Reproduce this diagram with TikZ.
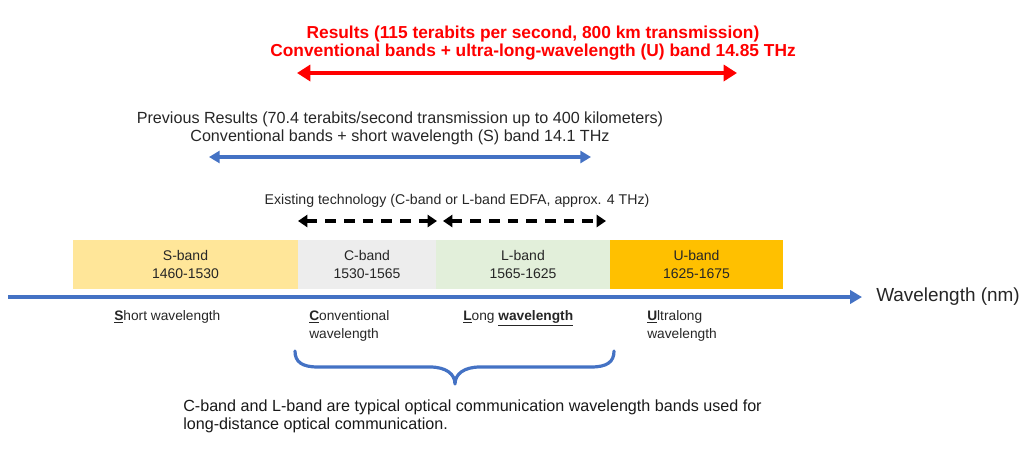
\documentclass[tikz,border=0pt]{standalone}
\usepackage{fontspec}
\setmainfont{Liberation Sans}
\usetikzlibrary{arrows.meta}
\definecolor{axisblue}{HTML}{4472C4}
\definecolor{sfill}{HTML}{FFE699}
\definecolor{cfill}{HTML}{EDEDED}
\definecolor{lfill}{HTML}{E2EFDA}
\definecolor{ufill}{HTML}{FFC000}
\definecolor{resred}{HTML}{FF0000}
\tikzset{
  band/.style={draw=none, minimum height=49*0.75pt, inner sep=0pt, align=center, font=\fontsize{10.5pt}{13pt}\selectfont, text=black!85},
  lbl/.style={inner sep=0pt, align=left, anchor=north west, font=\fontsize{10.3pt}{13.5pt}\selectfont, text=black!85},
  redarrow/.style={draw=resred, line width=3.2pt, {Triangle[length=10pt,width=12pt]}-{Triangle[length=10pt,width=12pt]}},
  bluearrow/.style={draw=axisblue, line width=2.4pt, {Triangle[length=8pt,width=9pt]}-{Triangle[length=8pt,width=9pt]}},
  dasharrow/.style={draw=black, line width=2.3pt, dash pattern=on 8pt off 6pt, {Triangle[length=7pt,width=9pt]}-{Triangle[length=7pt,width=9pt]}},
}
\begin{document}
\begin{tikzpicture}[x=0.75pt,y=-0.75pt]
\useasboundingbox (0,0) rectangle (1032,455);
% red results
\node[font=\fontsize{13pt}{13.5pt}\selectfont\bfseries, text=resred, align=center] (red) at (533,43) {Results (115 terabits per second, 800 km transmission)\\Conventional bands + ultra-long-wavelength (U) band 14.85 THz};
\coordinate (r1) at (297,73);
\coordinate (r2) at (737,73);
\draw[redarrow] (r1) -- (r2);
% blue previous results
\node[font=\fontsize{12.1pt}{13.5pt}\selectfont, text=black!85, align=center] (prev) at (400,128) {Previous Results (70.4 terabits/second transmission up to 400 kilometers)\\Conventional bands + short wavelength (S) band 14.1 THz};
\coordinate (b1) at (209,157);
\coordinate (b2) at (591,157);
\draw[bluearrow] (b1) -- (b2);
% existing technology
\node[font=\fontsize{10.6pt}{12pt}\selectfont, text=black!85] (exist) at (457,201) {Existing technology (C-band or L-band EDFA, approx. 4 THz)};
\coordinate (d1) at (298,221);
\coordinate (d2) at (437,221);
\coordinate (d3) at (443,221);
\coordinate (d4) at (606,221);
\draw[dasharrow] (d1) -- (d2);
\draw[dasharrow] (d3) -- (d4);
% bands
\node[band, fill=sfill, minimum width=225*0.75pt] (sb) at (185.5,264.5) {S-band\\1460-1530};
\node[band, fill=cfill, minimum width=138*0.75pt] (cb) at (367,264.5) {C-band\\1530-1565};
\node[band, fill=lfill, minimum width=174*0.75pt] (lb) at (523,264.5) {L-band\\1565-1625};
\node[band, fill=ufill, minimum width=173*0.75pt] (ub) at (696.5,264.5) {U-band\\1625-1675};
% axis
\coordinate (a0) at (8,297);
\coordinate (a1) at (862,297);
\draw[draw=axisblue, line width=2.3pt, -{Triangle[length=9pt,width=10pt]}] (a0) -- (a1);
\node[anchor=west, inner sep=0pt, font=\fontsize{14.2pt}{14pt}\selectfont, text=black!85] (wl) at (876,297) {Wavelength (nm)};
% labels
\node[lbl] (sl) at (114,310) {\underline{\textbf{S}}hort wavelength};
\node[lbl] (cl) at (309,310) {\underline{\textbf{C}}onventional\\wavelength};
\node[lbl] (ll) at (463,310) {\underline{\textbf{L}}ong \underline{\textbf{wavelength}}};
\node[lbl] (ul) at (647,310) {\underline{\textbf{U}}ltralong\\wavelength};
% brace
\coordinate (br1) at (295,351);
\coordinate (br2) at (614,351);
\coordinate (brm) at (455,384);
\draw[draw=axisblue, line width=2.4pt, line cap=round, line join=round]
  (br1) .. controls (295,362) and (302,367) .. (318,367)
  -- (430,367) .. controls (446,367) and (455,374) .. (brm)
  .. controls (455,374) and (464,367) .. (480,367)
  -- (591,367) .. controls (607,367) and (614,362) .. (br2);
% bottom text
\node[anchor=north west, inner sep=0pt, align=left, font=\fontsize{12.1pt}{13.5pt}\selectfont, text=black!90] (note) at (183,400) {C-band and L-band are typical optical communication wavelength bands used for\\long-distance optical communication.};
\end{tikzpicture}
\end{document}
